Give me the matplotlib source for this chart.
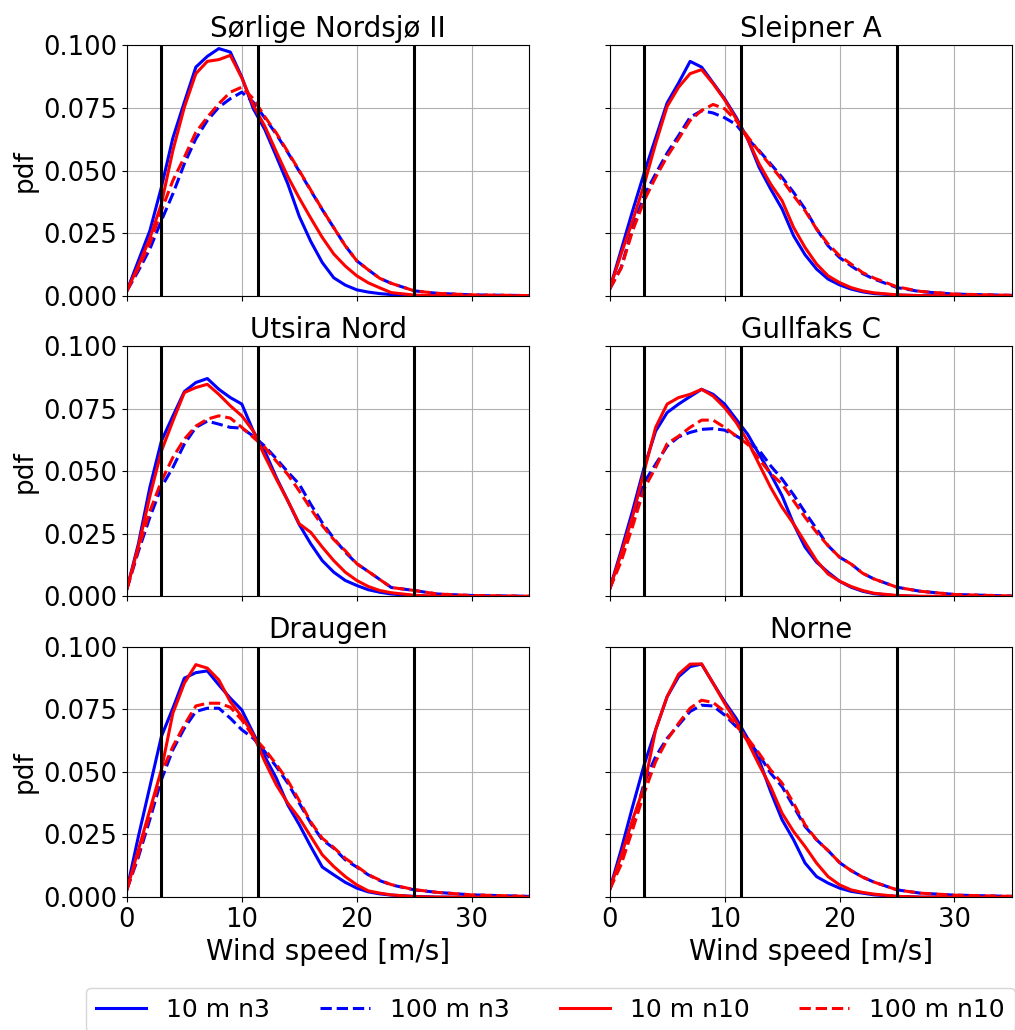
import matplotlib
matplotlib.use('Agg')
import numpy as np
from matplotlib import pyplot as plt

# wind speed grid [m/s] where the pdf was read
wind_speed = [0, 1, 2, 3, 4, 5, 6, 7, 8, 9, 10, 11, 12, 13, 14, 15, 16, 17, 18, 19,
              20, 21, 22, 23, 25, 27, 30, 35]

sites = ['Sørlige Nordsjø II', 'Sleipner A', 'Utsira Nord', 'Gullfaks C', 'Draugen', 'Norne']
series_labels = ['10 m n3', '100 m n3', '10 m n10', '100 m n10']
cut_speeds = [3, 11.4, 25]   # cut-in, rated, cut-out

# Sørlige Nordsjø II
sn2_10_n3 = [0.002, 0.014, 0.026, 0.0433, 0.063, 0.0773, 0.0913, 0.0956, 0.0987, 0.0973, 0.0873, 0.0747, 0.0664,
             0.0557, 0.0447, 0.0317, 0.0217, 0.0133, 0.0072, 0.0043, 0.0024, 0.0015, 0.0009, 0.0005, 0.0001, 0, 0, 0]
sn2_100_n3 = [0.002, 0.010, 0.0187, 0.030, 0.0407, 0.0527, 0.0627, 0.070, 0.0753, 0.0787, 0.0813, 0.0773, 0.071,
              0.0645, 0.0572, 0.0497, 0.042, 0.0344, 0.0272, 0.020, 0.014, 0.0104, 0.007, 0.005, 0.002, 0.001, 0.0004, 0.0001]
sn2_10_n10 = [0.002, 0.012, 0.023, 0.0367, 0.058, 0.0753, 0.0887, 0.0936, 0.0943, 0.096, 0.087, 0.076, 0.0677,
              0.0575, 0.0476, 0.039, 0.031, 0.0233, 0.0167, 0.0119, 0.008, 0.0052, 0.0032, 0.0013, 0.0003, 0, 0, 0]
sn2_100_n10 = [0.002, 0.011, 0.021, 0.034, 0.046, 0.0553, 0.0653, 0.0713, 0.0767, 0.0813, 0.0833, 0.0787, 0.0715,
               0.065, 0.0575, 0.050, 0.0422, 0.0345, 0.0272, 0.020, 0.014, 0.0104, 0.007, 0.005, 0.002, 0.001, 0.0004, 0.0001]

# Sleipner A
sa_10_n3 = [0.0027, 0.0183, 0.034, 0.049, 0.063, 0.077, 0.085, 0.0936, 0.0913, 0.085, 0.0787, 0.0713, 0.0627,
            0.0513, 0.0427, 0.0347, 0.024, 0.0164, 0.0107, 0.0067, 0.0044, 0.0027, 0.0016, 0.0009, 0.0003, 0.0001, 0, 0]
sa_100_n3 = [0.0027, 0.0113, 0.0273, 0.040, 0.0487, 0.057, 0.064, 0.0713, 0.0739, 0.073, 0.0711, 0.0684, 0.0627,
             0.058, 0.0527, 0.0473, 0.0413, 0.0347, 0.0267, 0.020, 0.0153, 0.012, 0.0089, 0.0067, 0.0033, 0.0017, 0.0007, 0.0002]
sa_10_n10 = [0.0027, 0.0167, 0.030, 0.0444, 0.0607, 0.0756, 0.0833, 0.0887, 0.0903, 0.0847, 0.0783, 0.0707, 0.0627,
             0.0527, 0.0447, 0.038, 0.0273, 0.0193, 0.0127, 0.008, 0.0053, 0.0033, 0.002, 0.0012, 0.0004, 0.0001, 0, 0]
sa_100_n10 = [0.0027, 0.011, 0.026, 0.038, 0.0473, 0.0556, 0.0627, 0.070, 0.074, 0.0764, 0.0747, 0.070, 0.0636,
              0.0576, 0.052, 0.0463, 0.040, 0.034, 0.0267, 0.0207, 0.016, 0.0127, 0.0093, 0.0071, 0.0036, 0.0018, 0.0007, 0.0002]

# Utsira Nord
un_10_n3 = [0.003, 0.021, 0.0436, 0.062, 0.072, 0.0818, 0.0854, 0.087, 0.0827, 0.0794, 0.0768, 0.066, 0.058,
            0.0475, 0.0382, 0.0287, 0.021, 0.0143, 0.0097, 0.0064, 0.0044, 0.0027, 0.0017, 0.001, 0.0003, 0, 0, 0]
un_100_n3 = [0.003, 0.018, 0.0316, 0.0436, 0.0515, 0.0608, 0.0675, 0.070, 0.0688, 0.0675, 0.0672, 0.064, 0.060,
             0.055, 0.0497, 0.0448, 0.0368, 0.0294, 0.0232, 0.0177, 0.0131, 0.010, 0.0068, 0.0036, 0.0024, 0.001, 0.0004, 0.0001]
un_10_n10 = [0.003, 0.020, 0.040, 0.058, 0.070, 0.0814, 0.0834, 0.0847, 0.0807, 0.0761, 0.0721, 0.066, 0.056,
             0.0469, 0.0382, 0.029, 0.0256, 0.0197, 0.0143, 0.0097, 0.0064, 0.004, 0.0024, 0.0015, 0.0005, 0.0001, 0, 0]
un_100_n10 = [0.003, 0.019, 0.034, 0.046, 0.0555, 0.0628, 0.068, 0.0708, 0.0721, 0.0712, 0.0675, 0.0635, 0.0595,
              0.054, 0.0487, 0.0421, 0.035, 0.0283, 0.0227, 0.0183, 0.0131, 0.010, 0.0068, 0.0036, 0.0024, 0.001, 0.0004, 0.0001]

# Gullfaks C
gc_10_n3 = [0.003, 0.0183, 0.0343, 0.0515, 0.066, 0.0734, 0.0768, 0.0798, 0.0827, 0.0807, 0.0768, 0.0708, 0.0648,
            0.0568, 0.0489, 0.0402, 0.029, 0.0197, 0.0137, 0.0097, 0.0061, 0.0037, 0.0021, 0.0011, 0.0003, 0, 0, 0]
gc_100_n3 = [0.003, 0.015, 0.030, 0.0455, 0.0528, 0.060, 0.0637, 0.0655, 0.0667, 0.067, 0.0664, 0.0641, 0.0615,
             0.0584, 0.0522, 0.0469, 0.0406, 0.0336, 0.027, 0.0203, 0.0157, 0.013, 0.0093, 0.007, 0.0037, 0.0021, 0.0008, 0.0002]
gc_10_n10 = [0.003, 0.017, 0.032, 0.050, 0.0675, 0.0768, 0.0794, 0.0807, 0.0827, 0.080, 0.0754, 0.0695, 0.0621,
             0.0528, 0.0436, 0.0356, 0.029, 0.0216, 0.0143, 0.009, 0.0061, 0.004, 0.0024, 0.0013, 0.0004, 0.0001, 0, 0]
gc_100_n10 = [0.003, 0.014, 0.028, 0.043, 0.0515, 0.061, 0.064, 0.0675, 0.0704, 0.0704, 0.0675, 0.0641, 0.0608,
              0.0548, 0.0491, 0.0449, 0.0382, 0.0316, 0.0256, 0.0203, 0.0157, 0.013, 0.0093, 0.007, 0.0037, 0.0021, 0.0008, 0.0002]

# Draugen
dr_10_n3 = [0.003, 0.0242, 0.0441, 0.0641, 0.0754, 0.0874, 0.0896, 0.0903, 0.0847, 0.0794, 0.0747, 0.0654, 0.0561,
            0.0475, 0.0368, 0.0289, 0.0202, 0.012, 0.0089, 0.0059, 0.0036, 0.0021, 0.0013, 0.0008, 0.0003, 0, 0, 0]
dr_100_n3 = [0.003, 0.016, 0.031, 0.0468, 0.0588, 0.0674, 0.0741, 0.0754, 0.0754, 0.0714, 0.0668, 0.0634, 0.0581,
             0.0521, 0.0455, 0.0375, 0.0295, 0.0229, 0.0195, 0.0149, 0.012, 0.0089, 0.0066, 0.0049, 0.0029, 0.0019, 0.0009, 0.0003]
dr_10_n10 = [0.003, 0.0189, 0.0348, 0.0508, 0.0734, 0.0854, 0.0928, 0.0914, 0.0867, 0.078, 0.072, 0.0648, 0.0541,
             0.0448, 0.0375, 0.0315, 0.0242, 0.0169, 0.0122, 0.0082, 0.0049, 0.0025, 0.0016, 0.0009, 0.0002, 0, 0, 0]
dr_100_n10 = [0.003, 0.017, 0.033, 0.0495, 0.0601, 0.0687, 0.0763, 0.0774, 0.0774, 0.0758, 0.0707, 0.0641, 0.059,
              0.053, 0.0465, 0.0385, 0.030, 0.0235, 0.0198, 0.0155, 0.0123, 0.009, 0.0068, 0.005, 0.003, 0.0019, 0.0009, 0.0003]

# Norne
no_10_n3 = [0.003, 0.0189, 0.0362, 0.0528, 0.0668, 0.080, 0.088, 0.092, 0.093, 0.0854, 0.078, 0.0714, 0.0634,
            0.0548, 0.0422, 0.0309, 0.0229, 0.0136, 0.0082, 0.0056, 0.0036, 0.0023, 0.0016, 0.0009, 0.0003, 0, 0, 0]
no_100_n3 = [0.003, 0.014, 0.029, 0.0455, 0.0561, 0.0634, 0.0687, 0.0741, 0.0766, 0.0763, 0.0727, 0.0681, 0.0628,
             0.0568, 0.0495, 0.0441, 0.0362, 0.0282, 0.0229, 0.0186, 0.0138, 0.0106, 0.008, 0.006, 0.0029, 0.0016, 0.0008, 0.0003]
no_10_n10 = [0.003, 0.0165, 0.031, 0.0441, 0.0668, 0.080, 0.089, 0.093, 0.0931, 0.0854, 0.0774, 0.070, 0.0621,
             0.0528, 0.0441, 0.0335, 0.0262, 0.0202, 0.0136, 0.0082, 0.0049, 0.0029, 0.0019, 0.0012, 0.0003, 0, 0, 0]
no_100_n10 = [0.003, 0.013, 0.027, 0.0415, 0.0541, 0.0628, 0.0694, 0.0754, 0.0786, 0.0777, 0.0741, 0.0684, 0.0634,
              0.0574, 0.0508, 0.0455, 0.0375, 0.0289, 0.0229, 0.0186, 0.0138, 0.0106, 0.008, 0.006, 0.0029, 0.0016, 0.0008, 0.0003]

site_curves = [
    [sn2_10_n3, sn2_100_n3, sn2_10_n10, sn2_100_n10],
    [sa_10_n3, sa_100_n3, sa_10_n10, sa_100_n10],
    [un_10_n3, un_100_n3, un_10_n10, un_100_n10],
    [gc_10_n3, gc_100_n3, gc_10_n10, gc_100_n10],
    [dr_10_n3, dr_100_n3, dr_10_n10, dr_100_n10],
    [no_10_n3, no_100_n3, no_10_n10, no_100_n10],
]
styles = [('b', '-'), ('b', '--'), ('r', '-'), ('r', '--')]

fig, axes = plt.subplots(3, 2, figsize=(10.15, 10.30), dpi=100, sharex=True, sharey=True)
fig.subplots_adjust(left=0.125, right=0.997, top=0.956, bottom=0.129, wspace=0.2, hspace=0.2)

for ax, site, curves in zip(axes.flat, sites, site_curves):
    for vals, (c, ls), lab in zip(curves, styles, series_labels):
        ax.plot(wind_speed, vals, color=c, linestyle=ls, linewidth=2.2, label=lab)
    for v in cut_speeds:
        ax.axvline(v, color='k', linewidth=2.2)
    ax.set_title(site, fontsize=20)
    ax.grid(True, color='#b0b0b0', linewidth=0.8)
    ax.set_axisbelow(True)
    ax.set_xlim(0, 35)
    ax.set_ylim(0, 0.1)
    ax.set_xticks([0, 10, 20, 30])
    ax.set_yticks([0, 0.025, 0.05, 0.075, 0.1])
    ax.yaxis.set_major_formatter(matplotlib.ticker.FormatStrFormatter('%.3f'))
    ax.tick_params(labelsize=18.5)

for ax in axes[:, 0]:
    ax.set_ylabel('pdf', fontsize=19)
for ax in axes[-1, :]:
    ax.set_xlabel('Wind speed [m/s]', fontsize=20)

# legend sits below the grid and runs off the right edge, as in the source figure
handles, labels = axes[0, 0].get_legend_handles_labels()
fig.legend(handles, labels, loc='upper left', bbox_to_anchor=(0.0847, 0.0408), ncol=4,
           fontsize=18, borderaxespad=0)

fig.savefig('out.png', dpi=100)
